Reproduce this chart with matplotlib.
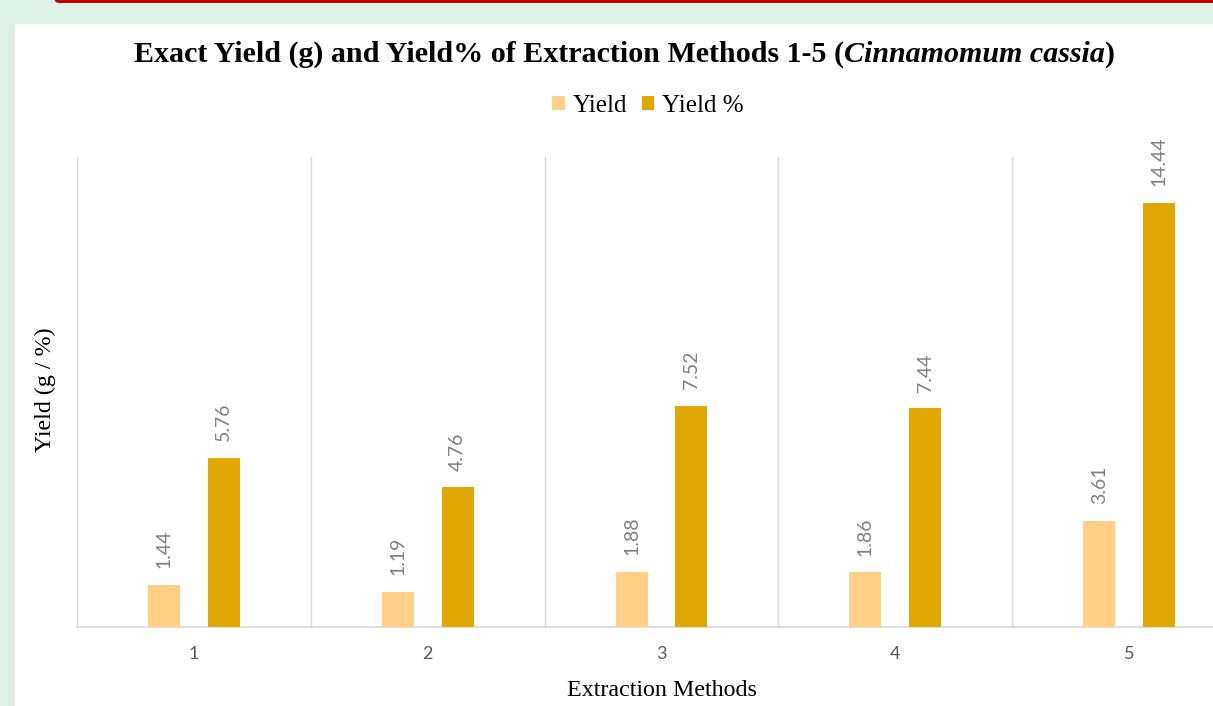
import numpy as np
import matplotlib
matplotlib.use("Agg")
import matplotlib.pyplot as plt
from matplotlib.patches import Rectangle, FancyBboxPatch

methods = ["1", "2", "3", "4", "5"]
yield_g = [1.44, 1.19, 1.88, 1.86, 3.61]
yield_pct = [5.76, 4.76, 7.52, 7.44, 14.44]
series_names = ["Yield", "Yield %"]
series_colors = ["#FFD085", "#E0A800"]

W, H = 1213, 706
fig = plt.figure(figsize=(W / 100, H / 100), dpi=100)
fig.patch.set_facecolor("#DDF0E8")

# white panel and red strip at the top
fig.patches.append(Rectangle((15 / W, 0), 1, (H - 24) / H, transform=fig.transFigure,
                             facecolor="white", edgecolor="none", zorder=-5))
fig.patches.append(FancyBboxPatch((55 / W, (H - 3) / H), 1.1, 0.02, transform=fig.transFigure,
                                  boxstyle="round,pad=0,rounding_size=0.004",
                                  facecolor="#C00000", edgecolor="none", zorder=1))

ax = fig.add_axes([77 / W, (H - 627) / H, (1246 - 77) / W, (627 - 157) / H])
ax.set_facecolor("none")
ax.set_zorder(2)

x = np.arange(len(methods))
off = 0.128
bw = 0.137
b1 = ax.bar(x - off, yield_g, bw, color=series_colors[0], label=series_names[0], zorder=3)
b2 = ax.bar(x + off, yield_pct, bw, color=series_colors[1], label=series_names[1], zorder=3)

for bars, vals in [(b1, yield_g), (b2, yield_pct)]:
    for rect, v in zip(bars, vals):
        ax.annotate(f"{v:.2f}", (rect.get_x() + rect.get_width() / 2, v),
                    xytext=(0, 12), textcoords="offset points", rotation=90,
                    ha="center", va="bottom", fontsize=14, color="#7F7F7F",
                    family="Lato")

ax.set_xlim(-0.5, len(methods) - 0.5)
ax.set_ylim(0, 16)
ax.set_xticks(x)
ax.set_xticklabels(methods, fontsize=13, color="#595959", family="Lato")
ax.tick_params(axis="x", length=0, pad=14)
ax.set_yticks([])
for b in np.arange(-0.5, len(methods), 1.0):
    ax.axvline(b, color="#D9D9D9", lw=1, zorder=1)
for s in ["top", "right", "left"]:
    ax.spines[s].set_visible(False)
ax.spines["bottom"].set_color("#D9D9D9")
ax.spines["bottom"].set_linewidth(1.2)

fig.text(662 / W, 1 - 691 / H, "Extraction Methods", ha="center", va="center",
         fontsize=17.3, family="Liberation Serif", color="black")
fig.text(45 / W, 1 - 390 / H, "Yield (g / %)", ha="center", va="center", rotation=90,
         fontsize=17.3, family="Liberation Serif", color="black")

leg = fig.legend(handles=[b1, b2], labels=series_names, loc="center",
                 bbox_to_anchor=(648 / W, 1 - 106 / H), ncol=2, frameon=False,
                 prop={"family": "Liberation Serif", "size": 18},
                 handlelength=0.5, handleheight=0.5, handletextpad=0.3, columnspacing=0.6)

# title with italic species name
parts = [("Exact Yield (g) and Yield% of Extraction Methods 1-5 (", "normal"),
         ("Cinnamomum cassia", "italic"), (")", "normal")]
renderer = fig.canvas.get_renderer()
texts = []
for s, st in parts:
    t = fig.text(0, 1 - 54 / H, s, ha="left", va="center", fontsize=21.6,
                 fontweight="bold", fontstyle=st, family="Liberation Serif")
    texts.append(t)
widths = [t.get_window_extent(renderer).width for t in texts]
xpos = 624 - sum(widths) / 2
for t, w in zip(texts, widths):
    t.set_x(xpos / W)
    xpos += w

fig.savefig("out.png", dpi=100, facecolor=fig.get_facecolor())
